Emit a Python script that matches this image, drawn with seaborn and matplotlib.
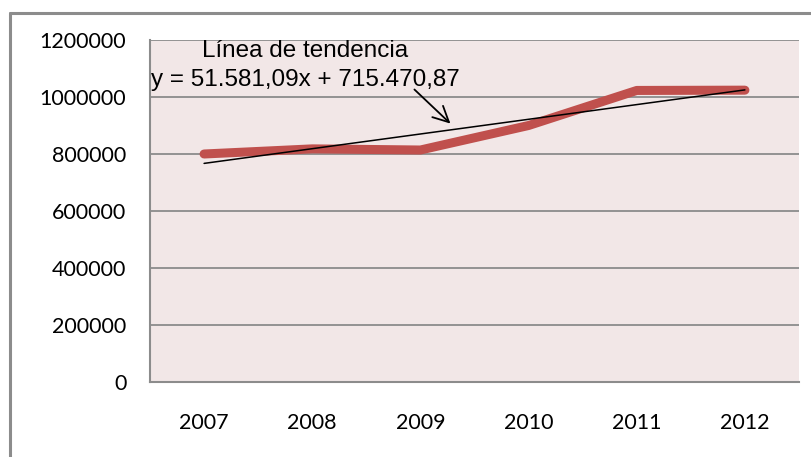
import pandas as pd
import seaborn as sns
import matplotlib.pyplot as plt
from matplotlib.lines import Line2D

# datos
years = ['2007', '2008', '2009', '2010', '2011', '2012']
values = [800000, 818000, 814000, 900000, 1023000, 1024000]
slope = 51581.09
intercept = 715470.87
yticks = [0, 200000, 400000, 600000, 800000, 1000000, 1200000]

df = pd.DataFrame({'year': years, 'value': values})
df['pos'] = range(len(years))
df['trend'] = [slope * (i + 1) + intercept for i in df['pos']]

sns.set_style('white')
plt.rcParams['font.family'] = ['Lato', 'DejaVu Sans']
plt.rcParams['text.color'] = 'black'

fig = plt.figure(figsize=(8.12, 4.57), dpi=100)
ax = fig.add_axes([150/812, 1 - 382/457, (799 - 150)/812, (382 - 40)/457])
ax.set_facecolor('#F2E7E7')

grey = '#8c8c8c'
for t in yticks[1:]:
    ax.axhline(t, color=grey, lw=1.3, zorder=1)

sns.lineplot(data=df, x='pos', y='value', ax=ax, color='#C0504D', lw=6.5,
             solid_capstyle='round', solid_joinstyle='round', zorder=3)
sns.lineplot(data=df, x='pos', y='trend', ax=ax, color='black', lw=1.1, zorder=4)

ax.set_xlim(-0.5, len(years) - 0.5)
ax.set_ylim(0, 1200000)
ax.set_yticks(yticks)
ax.set_yticklabels([str(t) for t in yticks], fontsize=15.5, color='black')
ax.set_xticks(df['pos'])
ax.set_xticklabels(years, fontsize=15.5, color='black')
ax.set_xticks([i - 0.5 for i in range(len(years) + 1)], minor=True)
ax.tick_params(axis='x', which='major', length=0, pad=22)
ax.tick_params(axis='x', which='minor', length=7, width=1.3, color=grey,
               direction='out')
ax.tick_params(axis='y', length=7, width=1.3, color=grey, direction='out',
               pad=10)
ax.set_xlabel('')
ax.set_ylabel('')
for s in ['top', 'right']:
    ax.spines[s].set_visible(False)
for s in ['left', 'bottom']:
    ax.spines[s].set_color(grey)
    ax.spines[s].set_linewidth(1.5)

# etiqueta de la linea de tendencia
lab = dict(ha='center', va='center', fontsize=17.5, color='black',
           family=['Liberation Sans', 'DejaVu Sans'])
ax.text(0.935, 1160000, 'Línea de tendencia', **lab)
ax.text(0.935, 1058000, 'y = 51.581,09x + 715.470,87', **lab)
ax.annotate('', xy=(2.296, 900000), xytext=(1.926, 1033000),
            arrowprops=dict(arrowstyle='->', color='black', lw=1.3,
                            mutation_scale=28))

# borde exterior del area del grafico
fig.add_artist(Line2D([10/812, 10/812], [0, 1 - 13/457], color=grey, lw=2.2))
fig.add_artist(Line2D([10/812, 1], [1 - 13/457, 1 - 13/457], color=grey, lw=2.2))

fig.savefig('out.png', dpi=100)
